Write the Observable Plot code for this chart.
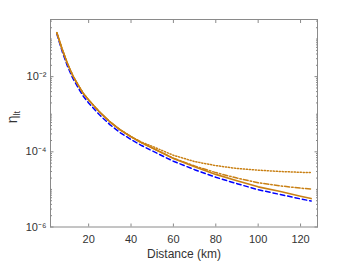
<!DOCTYPE html>
<html>
<head>
<meta charset="utf-8">
<script src="https://cdn.jsdelivr.net/npm/d3@7"></script>
<script src="https://cdn.jsdelivr.net/npm/@observablehq/plot@0.6"></script>
<style>
html,body{margin:0;padding:0;background:#fff;}
#chart{width:350px;height:263px;}
</style>
</head>
<body>
<div id="chart"></div>
<script>
// Distance (km)
const distance = [5, 7.5, 10, 12.5, 15, 17.5, 20, 25, 30, 35, 40, 45, 50, 60, 70, 80, 90, 100, 110, 120, 125];
// eta_lt for the four curves
const solidOrange = [0.148, 0.0537, 0.0224, 0.0107, 0.00603, 0.00355, 0.0024, 0.00117, 6.31e-4, 3.8e-4, 2.51e-4, 1.74e-4, 1.26e-4, 6.61e-5, 3.98e-5, 2.51e-5, 1.7e-5, 1.17e-5, 8.9e-6, 6.6e-6, 5.7e-6];
const dashDotOrange = [0.148, 0.0537, 0.0224, 0.0107, 0.00603, 0.00355, 0.0024, 0.00117, 6.31e-4, 3.8e-4, 2.51e-4, 1.74e-4, 1.27e-4, 6.8e-5, 4.2e-5, 2.8e-5, 2.0e-5, 1.5e-5, 1.25e-5, 1.08e-5, 1.02e-5];
const dottedOrange = [0.148, 0.0537, 0.0224, 0.0107, 0.00603, 0.00355, 0.0024, 0.00117, 6.31e-4, 3.82e-4, 2.55e-4, 1.8e-4, 1.4e-4, 8.1e-5, 5.5e-5, 4.3e-5, 3.6e-5, 3.25e-5, 3.0e-5, 2.85e-5, 2.8e-5];
const dashedBlue = [0.136, 0.047, 0.019, 0.0091, 0.0051, 0.003, 0.002, 9.8e-4, 5.3e-4, 3.2e-4, 2.12e-4, 1.47e-4, 1.06e-4, 5.6e-5, 3.35e-5, 2.1e-5, 1.42e-5, 9.8e-6, 7.4e-6, 5.6e-6, 4.9e-6];

const xTicks = [20, 40, 60, 80, 100, 120];
const yMajorTicks = [1e-6, 1e-4, 1e-2];
const yTickLabels = ["10\u207B\u2076", "10\u207B\u2074", "10\u207B\u00B2"];
const yMax = Math.pow(10, -0.48);
const yMinorTicks = [];
for (let e = -6; e <= -1; e++) for (let k = 1; k <= 9; k++) {
  const v = k * Math.pow(10, e);
  if (!(k === 1 && e % 2 === 0) && v <= yMax) yMinorTicks.push(v);
}

const orange = "#C98014";
const blue = "#0000FF";
const axisColor = "#8a8a8a";
const textColor = "#333";

const rows = (ys) => distance.map((d, i) => ({d, v: ys[i]}));

const plot = Plot.plot({
  width: 350,
  height: 263,
  marginLeft: 50,
  marginRight: 33,
  marginTop: 19,
  marginBottom: 36.5,
  style: {fontFamily: "'Liberation Sans', Arial, Helvetica, sans-serif", fontSize: "11px", background: "#fff", color: textColor},
  x: {domain: [2, 128]},
  y: {type: "log", domain: [1e-6, yMax]},
  marks: [
    Plot.line(rows(dashedBlue), {x: "d", y: "v", stroke: blue, strokeWidth: 1.5, strokeDasharray: "4.5,3"}),
    Plot.line(rows(dottedOrange), {x: "d", y: "v", stroke: orange, strokeWidth: 1.5, strokeDasharray: "1.2,1.8"}),
    Plot.line(rows(dashDotOrange), {x: "d", y: "v", stroke: orange, strokeWidth: 1.5, strokeDasharray: "5,2,1.5,2"}),
    Plot.line(rows(solidOrange), {x: "d", y: "v", stroke: orange, strokeWidth: 1.6}),
    Plot.frame({stroke: axisColor, strokeWidth: 1}),
    // inward ticks
    Plot.axisX({anchor: "bottom", ticks: xTicks, tickSize: -3, text: null, label: null, stroke: axisColor}),
    Plot.axisX({anchor: "top", ticks: xTicks, tickSize: -3, text: null, label: null, stroke: axisColor}),
    Plot.axisY({anchor: "left", ticks: yMajorTicks, tickSize: -3.5, text: null, label: null, stroke: axisColor}),
    Plot.axisY({anchor: "right", ticks: yMajorTicks, tickSize: -3.5, text: null, label: null, stroke: axisColor}),
    Plot.axisY({anchor: "left", ticks: yMinorTicks, tickSize: -2, text: null, label: null, stroke: axisColor}),
    Plot.axisY({anchor: "right", ticks: yMinorTicks, tickSize: -2, text: null, label: null, stroke: axisColor}),
    // tick labels
    Plot.axisX({anchor: "bottom", ticks: xTicks, tickSize: 0, tickPadding: 8, label: null, fill: textColor, fontSize: 11}),
    Plot.axisY({anchor: "left", ticks: yMajorTicks, tickSize: 0, tickPadding: 4, label: null, fill: textColor, fontSize: 11,
      tickFormat: (d) => yTickLabels[yMajorTicks.indexOf(d)]}),
    // axis titles
    Plot.text(["Distance (km)"], {frameAnchor: "bottom", dy: 27, text: (d) => d, fill: textColor, fontSize: 12, lineAnchor: "middle"}),
    Plot.text(["ETA_LT"], {frameAnchor: "left", dx: -38, rotate: -90, text: (d) => d, fill: textColor, fontSize: 14, lineAnchor: "middle"})
  ]
});

document.getElementById("chart").appendChild(plot);

// turn the y title into η with subscript "lt"
d3.select(plot).selectAll("text").filter(function () { return this.textContent === "ETA_LT"; })
  .each(function () {
    const t = d3.select(this);
    t.text(null);
    t.append("tspan").text("\u03B7");
    t.append("tspan").attr("dy", "0.3em").attr("font-size", "9px").text("lt");
  });
</script>
</body>
</html>
